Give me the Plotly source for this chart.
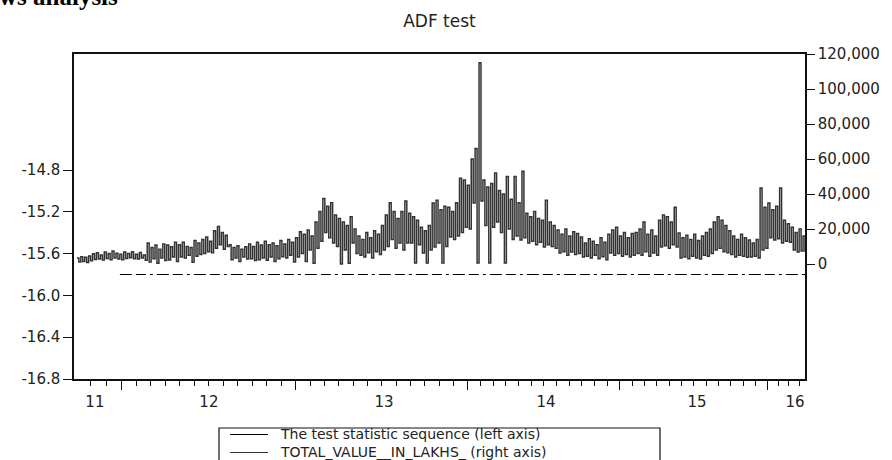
import numpy as np
import plotly.graph_objects as go

# ---------------- data ----------------
title_text = "ADF test"
header_text = "ws analysis"
series_names = ["The test statistic sequence (left axis)",
                "TOTAL_VALUE__IN_LAKHS_ (right axis)"]
series_colors = ["#000000", "#333333"]

year_labels = ["11", "12", "13", "14", "15", "16"]
year_label_obs = [9.2, 67.6, 157.3, 240.3, 317.7, 367.9]   # observation index of each year's label
year_start_obs = [22.9, 112.2, 200.3, 278.2, 354.0]        # observation index where a new year starts

left_tick_vals = [-16.8, -16.4, -16.0, -15.6, -15.2, -14.8]
left_tick_text = ["-16.8", "-16.4", "-16.0", "-15.6", "-15.2", "-14.8"]
right_tick_vals = [0, 20000, 40000, 60000, 80000, 100000, 120000]

# test statistic sequence (left axis)
test_stat_obs = [22, 60, 100, 140, 180, 220, 260, 300, 340, 373]
test_stat = [-15.80, -15.80, -15.80, -15.80, -15.80, -15.80, -15.80, -15.80, -15.80, -15.80]

# TOTAL_VALUE__IN_LAKHS_ (right axis), read as successive high / low observations
total_value = [
    3500, 1200, 4200, 1500, 3800, 900, 4600, 1800,
    5800, 2600, 6500, 2900, 5200, 2300, 6800, 3100, 6000, 2500, 7400, 3400, 6200, 2800, 5600, 2400,
    6800, 3200, 6000, 3600, 7000, 3000, 5600, 2800, 6600, 3400, 5200, 2200,
    12000, 1200, 9500, 3000, 10800, 500, 8500, 3400, 11500, 2000,
    10900, 2300, 9800, 4000, 12500, 1500,
    11000, 4000, 12500, 3500, 10000, 5000, 9500, 1000, 13500, 4500, 12000, 5500,
    14000, 6000, 15500, 7000, 13000, 6500,
    19000, 9000, 21500, 11000, 18000, 8500, 16500, 10000,
    11000, 2500, 9500, 3500, 10500, 1500, 8500, 4000, 9800, 2800, 11500, 3000, 10000, 2000,
    12500, 2500, 10800, 3500, 13000, 2200, 11000, 4000, 12000, 1500, 10500, 3000, 13500, 4200,
    11500, 3500, 14000, 5000, 12500, 1200,
    15000, 4000, 18500, 6000, 17000, 1500, 19500, 8000, 16000, 500,
    24000, 9000, 30000, 13000, 37500, 18000, 33000, 15000, 35000, 12000, 28000, 10000,
    26000, 0, 24000, 8000, 22000, 500, 27000, 12000, 20000, 6000,
    16000, 5000, 14000, 4000, 18000, 6500, 15000, 3500, 19000, 7000, 17000, 5500,
    22000, 8000, 28000, 10000, 35000, 14000, 30000, 9000, 26000, 12000,
    30000, 8000, 36000, 12000,
    29000, 12000, 27000, 600, 25000, 11000,
    21000, 6300, 19000, 600, 22000, 8000,
    34800, 9700, 36500, 12000, 31000, 600, 33000, 10000,
    32500, 15400, 30000, 14000, 35000, 16000, 49000, 18000,
    48000, 21000, 45000, 20000,
    60000, 34800, 66000, 600, 115000, 36000,
    48000, 22000, 44000, 600, 46000, 21000, 52000, 24000,
    42000, 18000, 40000, 600, 50000, 20000,
    37000, 14000, 50000, 16000, 35000, 13700, 53000, 15000,
    29000, 12000, 27000, 13000, 30000, 11000, 26000, 12500,
    25000, 9700, 36500, 11000, 24000, 10000, 22000, 9000,
    19400, 6300, 17000, 7000, 20000, 5000, 16000, 6800, 18500, 5500, 17500, 6000,
    15400, 4000, 12000, 4500, 14500, 3500, 13000, 5000, 11000, 3000, 15000, 4200, 12500, 2500,
    17000, 6300, 19400, 5000, 21000, 6000, 16000, 4500, 18000, 5500, 15000, 4000, 17500, 5000,
    18000, 6000, 20000, 5000, 24000, 7000, 17000, 4500, 19400, 6300, 16000, 5000,
    25000, 9700, 28000, 10500, 27000, 9000, 24000, 11000, 32500, 9700,
    17700, 3400, 15000, 4000, 16500, 3000, 14000, 4500, 17000, 3500, 13500, 2800,
    16000, 5000, 18000, 4500, 20000, 6000, 24000, 8000, 27000, 9000, 25000, 7000,
    22000, 6500, 19000, 5500, 16000, 4000, 14000, 5000, 17000, 4500, 15000, 3800,
    13700, 4000, 12000, 4500, 14000, 3500,
    43400, 8000, 32500, 9000,
    34800, 15000, 31000, 13700, 33000, 14500,
    43400, 12000, 25000, 13000, 23000, 12500,
    21000, 8000, 18000, 6900, 20000, 7500, 16000, 6800,
]
total_obs = list(range(len(total_value)))

# ---------------- layout geometry (pixels) ----------------
W, H = 892, 460
ML, MR, MT, MB = 74, 87, 54, 81
PW, PH = W - ML - MR, H - MT - MB


def px_x(p):
    return (p - ML) / PW


def px_y(p):
    return (H - MB - p) / PH


# month tick positions (axis decoration)
month_ticks = [year_start_obs[0] - k * 7.9 for k in (2, 1)]
for a, b in zip(year_start_obs[:-1], year_start_obs[1:]):
    month_ticks += list(np.linspace(a, b, 13)[1:-1])
month_ticks += [year_start_obs[-1] + k * 5.4 for k in (1, 2, 3)]

x_range = [-1.5, 373]
axis_line = dict(showline=True, linecolor="#111111", linewidth=1.5,
                 showgrid=False, zeroline=False)

fig = go.Figure()
fig.add_trace(go.Scatter(
    x=test_stat_obs, y=test_stat, mode="lines", name=series_names[0],
    line=dict(color=series_colors[0], width=1.2, dash="12px,4px,10px,4px,3px,4px"),
    xaxis="x", yaxis="y", showlegend=False))
fig.add_trace(go.Scatter(
    x=total_obs, y=total_value, mode="lines", name=series_names[1],
    line=dict(color=series_colors[1], width=1.5, shape="hv"),
    xaxis="x", yaxis="y2", showlegend=False))
# empty trace so that the year-boundary tick axis (x2) is drawn
fig.add_trace(go.Scatter(x=[], y=[], mode="lines", xaxis="x2", yaxis="y",
                         showlegend=False, hoverinfo="skip"))

tick_font = dict(family="DejaVu Sans", size=15, color="#222222")

fig.update_layout(
    width=W, height=H,
    margin=dict(l=ML, r=MR, t=MT, b=MB, pad=0, autoexpand=False),
    paper_bgcolor="white", plot_bgcolor="white",
    font=dict(family="DejaVu Sans", size=15, color="#222222"),
    title=dict(text=title_text, x=0.5, xref="paper", xanchor="center",
               y=1 - 21 / H, yanchor="middle",
               font=dict(family="DejaVu Sans", size=17, color="#222222")),
    showlegend=False,
    xaxis=dict(range=x_range, tickmode="array", tickvals=year_label_obs,
               ticktext=year_labels, tickfont=tick_font,
               ticks="outside", ticklen=8, tickwidth=1, tickcolor="rgba(0,0,0,0)",
               mirror=True,
               minor=dict(tickmode="array", tickvals=month_ticks, ticks="outside",
                          ticklen=5, tickwidth=1.2, tickcolor="#111111", showgrid=False),
               **axis_line),
    xaxis2=dict(range=x_range, overlaying="x", anchor="y", side="bottom",
                tickmode="array", tickvals=year_start_obs, showticklabels=False,
                ticks="outside", ticklen=10, tickwidth=1.2, tickcolor="#111111",
                showline=False, showgrid=False, zeroline=False),
    yaxis=dict(range=[-16.8, -13.69], tickmode="array", tickvals=left_tick_vals,
               ticktext=left_tick_text, tickfont=tick_font,
               ticks="outside", ticklen=9, tickwidth=1.2, tickcolor="#111111",
               **axis_line),
    yaxis2=dict(range=[-65714, 120000], overlaying="y", side="right", anchor="x",
                tickmode="array", tickvals=right_tick_vals, tickformat=",",
                tickfont=tick_font,
                ticks="outside", ticklen=8, tickwidth=1.2, tickcolor="#111111",
                **axis_line),
)

# header text cut at the top of the page
fig.add_annotation(text="<b>" + header_text + "</b>", xref="paper", yref="paper",
                   x=px_x(-3), y=px_y(-3.5), xanchor="left", yanchor="middle",
                   showarrow=False,
                   font=dict(family="Liberation Serif", size=25, color="#000000"))

# legend box (drawn to match the reference's tight row spacing)
leg_left, leg_right, leg_top = 219, 660, 428
legend_center = 443
fig.add_shape(type="rect", xref="paper", yref="paper",
              x0=px_x(leg_left), x1=px_x(leg_right), y0=px_y(leg_top), y1=px_y(480),
              line=dict(color="#111111", width=1.2), fillcolor="white", layer="above")
for color, ry in zip(series_colors, [434.5, 452.5]):
    fig.add_shape(type="line", xref="paper", yref="paper",
                  x0=px_x(230), x1=px_x(268), y0=px_y(ry), y1=px_y(ry),
                  line=dict(color=color, width=1.2), layer="above")
fig.add_annotation(text="<br>".join(series_names), xref="paper", yref="paper",
                   x=px_x(278), y=px_y(legend_center), xanchor="left", yanchor="middle",
                   align="left", showarrow=False,
                   font=dict(family="DejaVu Sans", size=14, color="#222222"))

fig.write_html("out.html")
